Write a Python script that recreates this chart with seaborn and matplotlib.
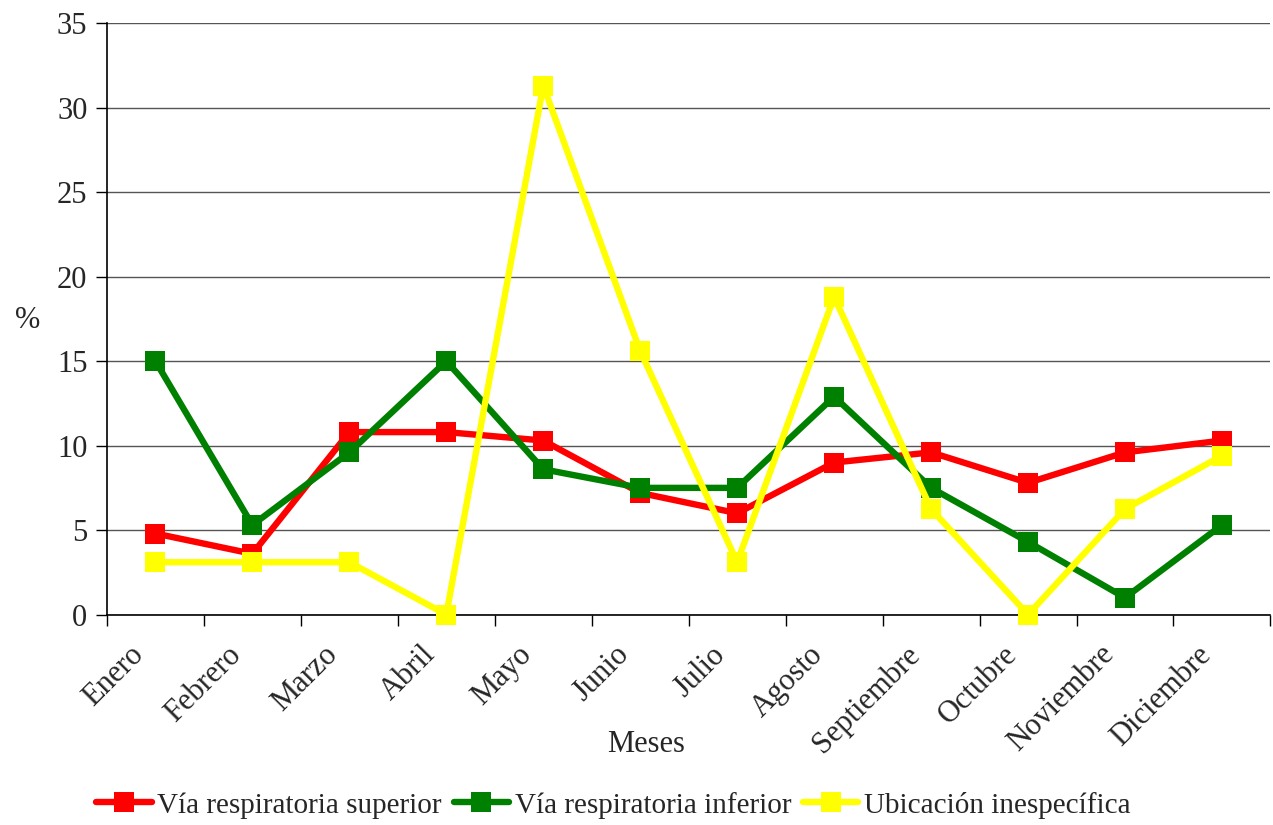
import numpy as np
import pandas as pd
import seaborn as sns
import matplotlib.pyplot as plt
import matplotlib.transforms as mtransforms

meses = ["Enero", "Febrero", "Marzo", "Abril", "Mayo", "Junio", "Julio",
         "Agosto", "Septiembre", "Octubre", "Noviembre", "Diciembre"]
superior = [4.8, 3.6, 10.8, 10.8, 10.3, 7.2, 6.0, 9.0, 9.6, 7.8, 9.6, 10.3]
inferior = [15.0, 5.3, 9.6, 15.0, 8.6, 7.5, 7.5, 12.9, 7.5, 4.3, 1.0, 5.3]
inespecifica = [3.1, 3.1, 3.1, 0.0, 31.3, 15.6, 3.1, 18.8, 6.25, 0.0, 6.25, 9.4]

series = ["Vía respiratoria superior", "Vía respiratoria inferior", "Ubicación inespecífica"]
colores = ["#ff0000", "#008000", "#ffff00"]

df = pd.DataFrame({
    "pos": list(range(len(meses))) * 3,
    "valor": superior + inferior + inespecifica,
    "serie": [series[0]] * 12 + [series[1]] * 12 + [series[2]] * 12,
})

sns.set_style("white")
plt.rcParams["font.family"] = ["Liberation Serif", "DejaVu Serif"]

fig, ax = plt.subplots(figsize=(12.73, 8.25), dpi=100)
fig.subplots_adjust(left=0.084, right=0.998, top=0.972, bottom=0.255)

sns.lineplot(data=df, x="pos", y="valor", hue="serie", hue_order=series,
             palette=colores, marker="s", markersize=15, markeredgewidth=0,
             linewidth=4.6, ax=ax, legend=True)
# los marcadores en 0 se ven completos en el original
for ln in ax.lines:
    ln.set_clip_on(False)
    ln.set_zorder(3)

ax.set_xlim(-0.5, 11.5)
ax.set_ylim(0, 35)
ax.set_yticks(range(0, 36, 5))
ax.yaxis.grid(True, color="#555555", linewidth=1.0)
ax.set_axisbelow(True)

ax.set_xticks(range(12))
ax.set_xticks(np.arange(-0.5, 12, 1), minor=True)
ax.tick_params(axis="x", which="major", length=0, pad=14)
ax.tick_params(axis="x", which="minor", length=8, width=1, color="black", bottom=True)
ax.tick_params(axis="y", length=8, width=1, color="black", left=True, labelsize=22, pad=6)
ax.set_xticklabels(meses, rotation=45, ha="right", rotation_mode="anchor", fontsize=22)
# desplazar las etiquetas un poco a la izquierda y abajo, como en el original
offset = mtransforms.ScaledTranslation(-26 / 100, -6 / 100, fig.dpi_scale_trans)
for lab in ax.get_xticklabels():
    lab.set_transform(lab.get_transform() + offset)

for s in ["top", "right"]:
    ax.spines[s].set_visible(False)
for s in ["left", "bottom"]:
    ax.spines[s].set_color("black")
    ax.spines[s].set_linewidth(1.2)

ax.set_xlabel("Meses", fontsize=22)
ax.xaxis.set_label_coords(0.463, -0.195)
ax.set_ylabel("%", fontsize=22, rotation=0, va="center")
ax.yaxis.set_label_coords(-0.068, 0.497)

handles, labels = ax.get_legend_handles_labels()
ax.legend(handles, labels, loc="center", bbox_to_anchor=(0.482, 0.024),
          bbox_transform=fig.transFigure, ncol=3, frameon=False, fontsize=21,
          handlelength=1.9, handletextpad=0.2, columnspacing=0.4, borderaxespad=0)

fig.savefig("out.png", dpi=100)
